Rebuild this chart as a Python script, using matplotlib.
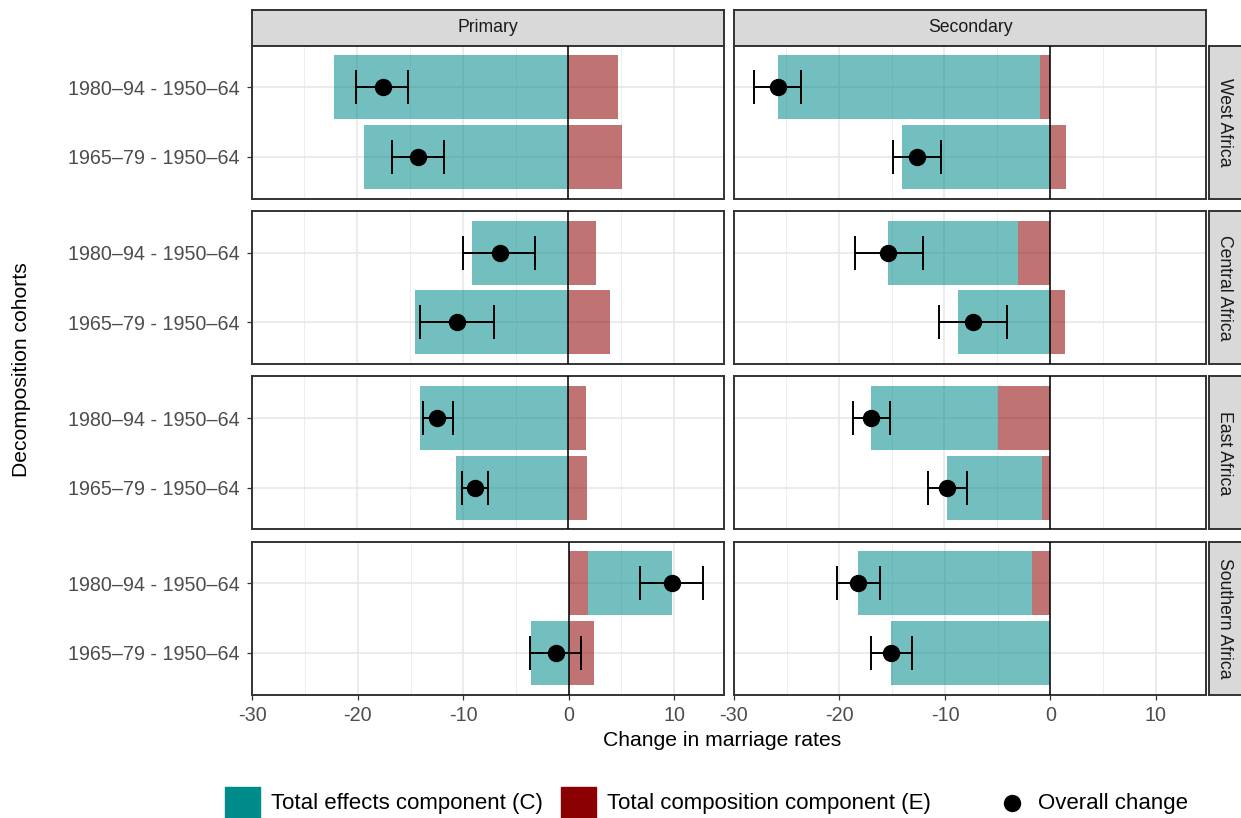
import matplotlib
matplotlib.use("Agg")
import matplotlib.pyplot as plt
from matplotlib.patches import Rectangle
from matplotlib.lines import Line2D
from matplotlib.ticker import MultipleLocator

plt.rcParams['font.family'] = ['Liberation Sans', 'DejaVu Sans']

# ---- data -------------------------------------------------------------
regions = ["West Africa", "Central Africa", "East Africa", "Southern Africa"]
levels = ["Primary", "Secondary"]
cohorts = ["1980–94 - 1950–64", "1965–79 - 1950–64"]   # top row, bottom row

# each row: region; each column: cohort (1980–94, 1965–79)
effects_primary = [[-22.2, -19.3], [-9.15, -14.5], [-14.05, -10.6], [7.95, -3.55]]
compos_primary = [[4.7, 5.1], [2.65, 3.95], [1.65, 1.75], [1.8, 2.35]]
overall_primary = [[-17.5, -14.2], [-6.5, -10.55], [-12.4, -8.85], [9.75, -1.2]]
lower_primary = [[-20.1, -16.7], [-10.0, -14.0], [-13.75, -10.1], [6.8, -3.65]]
upper_primary = [[-15.2, -11.8], [-3.15, -7.05], [-10.95, -7.65], [12.7, 1.15]]

effects_secondary = [[-24.75, -14.05], [-12.3, -8.7], [-12.05, -9.0], [-16.5, -15.15]]
compos_secondary = [[-1.0, 1.5], [-3.05, 1.4], [-4.9, -0.75], [-1.75, 0.0]]
overall_secondary = [[-25.75, -12.55], [-15.35, -7.3], [-16.95, -9.75], [-18.25, -15.15]]
lower_secondary = [[-28.0, -14.9], [-18.5, -10.5], [-18.65, -11.55], [-20.25, -17.05]]
upper_secondary = [[-23.6, -10.3], [-12.0, -4.05], [-15.15, -7.9], [-16.15, -13.15]]

x_ticks = [-30, -20, -10, 0, 10]

# ---- styling ----------------------------------------------------------
TEAL = "#008B8B"
RED = "#8B0000"
BAR_ALPHA = 0.55
W, H = 1241, 818

panels = {
    "Primary": (effects_primary, compos_primary, overall_primary, lower_primary, upper_primary),
    "Secondary": (effects_secondary, compos_secondary, overall_secondary, lower_secondary, upper_secondary),
}

fig = plt.figure(figsize=(W / 100, H / 100), dpi=100)
fig.patch.set_facecolor("white")

col_left = [252.3, 734.0]
panel_w = 472.0
row_top = [45.7 + 165.3 * i for i in range(4)]
panel_h = 153.0
strip_top = 10.0
strip_right_w = 33.0


def px_rect(x, y_top, w, h):
    return [x / W, 1 - (y_top + h) / H, w / W, h / H]


def stack_lefts(values):
    pos, neg = 0.0, 0.0
    lefts = []
    for v in values:
        if v >= 0:
            lefts.append(pos)
            pos += v
        else:
            lefts.append(neg)
            neg += v
    return lefts


def style_strip(sax):
    sax.set_facecolor("#d9d9d9")
    sax.set_xticks([])
    sax.set_yticks([])
    for s in sax.spines.values():
        s.set_color("#333333")
        s.set_linewidth(1.4)


ypos = [2, 1]  # 1980–94 on top
for ci, level in enumerate(levels):
    eff, comp, ov, lo, hi = panels[level]

    # level strip on top (drawn first so the panel border sits over its edge)
    tax = fig.add_axes(px_rect(col_left[ci], strip_top, panel_w, row_top[0] - strip_top))
    style_strip(tax)
    tax.text(0.5, 0.5, level, ha="center", va="center", fontsize=12.7,
             color="#1a1a1a", transform=tax.transAxes)

    for ri, region in enumerate(regions):
        ax = fig.add_axes(px_rect(col_left[ci], row_top[ri], panel_w, panel_h))
        ax.set_xlim(-29.9, 14.75)
        ax.set_ylim(0.4, 2.6)
        ax.xaxis.set_major_locator(MultipleLocator(10))
        ax.xaxis.set_minor_locator(MultipleLocator(5))
        ax.set_yticks(ypos)
        ax.grid(which="major", color="#e6e6e6", lw=1.1, zorder=0)
        ax.grid(which="minor", axis="x", color="#eeeeee", lw=0.7, zorder=0)
        ax.set_axisbelow(True)

        for k, y in enumerate(ypos):
            c_val, e_val = eff[ri][k], comp[ri][k]
            l_e, l_c = stack_lefts([e_val, c_val])
            ax.barh(y, c_val, left=l_c, height=0.92, color=TEAL, alpha=BAR_ALPHA,
                    linewidth=0, zorder=2)
            ax.barh(y, e_val, left=l_e, height=0.92, color=RED, alpha=BAR_ALPHA,
                    linewidth=0, zorder=2)
            # error bar with caps
            ax.hlines(y, lo[ri][k], hi[ri][k], color="black", lw=1.4, zorder=4)
            ax.vlines([lo[ri][k], hi[ri][k]], y - 0.245, y + 0.245, color="black",
                      lw=1.4, zorder=4)
            ax.plot(ov[ri][k], y, "o", ms=11.5, color="black", zorder=5)

        ax.axvline(0, color="black", lw=1.1, zorder=3)

        for s in ax.spines.values():
            s.set_color("#333333")
            s.set_linewidth(1.4)

        ax.tick_params(axis="both", colors="#333333", length=3.5, width=0.9,
                       labelcolor="#4d4d4d", labelsize=14.2)
        ax.tick_params(axis="y", pad=5.5)
        ax.tick_params(axis="x", pad=4.5)
        ax.tick_params(which="minor", length=0)
        if ci == 0:
            ax.set_yticklabels(cohorts)
        else:
            ax.tick_params(axis="y", length=0, labelleft=False)
        if ri == len(regions) - 1:
            ax.set_xticks(x_ticks)
            ax.set_xticklabels([str(t) for t in x_ticks])
        else:
            ax.tick_params(axis="x", length=0, labelbottom=False)

        # region strip on the right
        if ci == 1:
            sax = fig.add_axes(px_rect(col_left[1] + panel_w + 2.5, row_top[ri],
                                       strip_right_w, panel_h))
            style_strip(sax)
            sax.text(0.5, 0.5, region, rotation=-90, ha="center", va="center",
                     fontsize=12.7, color="#1a1a1a", transform=sax.transAxes)

# axis titles
fig.text(722 / W, 1 - 741 / H, "Change in marriage rates", ha="center", va="center",
         fontsize=15.2, color="black")
fig.text(22 / W, 1 - 370 / H, "Decomposition cohorts", ha="center", va="center",
         rotation=90, fontsize=15.2, color="black")

# legend
legend_y = 1 - 803 / H
key = 35
fig.patches.append(Rectangle((225 / W, 1 - 822 / H), key / W, key / H,
                             transform=fig.transFigure, color=TEAL, zorder=5))
fig.text(271 / W, legend_y, "Total effects component (C)", ha="left", va="center",
         fontsize=16, color="black")
fig.patches.append(Rectangle((561 / W, 1 - 822 / H), key / W, key / H,
                             transform=fig.transFigure, color=RED, zorder=5))
fig.text(607 / W, legend_y, "Total composition component (E)", ha="left", va="center",
         fontsize=16, color="black")
fig.add_artist(Line2D([1012 / W], [legend_y], marker="o", ms=11.5, color="black",
                      transform=fig.transFigure))
fig.text(1038 / W, legend_y, "Overall change", ha="left", va="center",
         fontsize=16, color="black")

fig.savefig("out.png", dpi=100, facecolor="white")
